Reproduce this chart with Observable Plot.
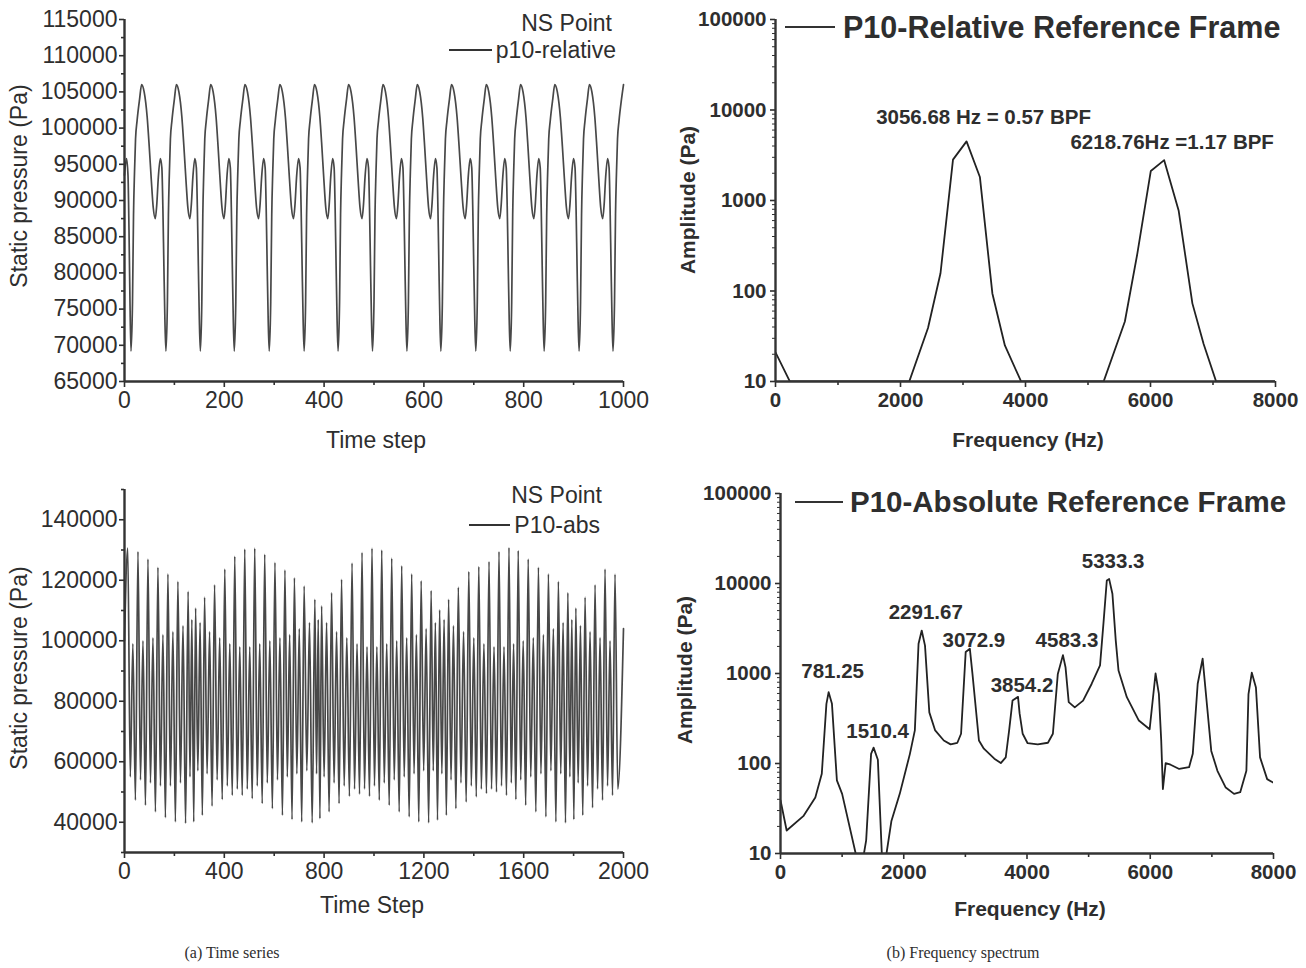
<!DOCTYPE html>
<html>
<head>
<meta charset="utf-8">
<script src="https://cdn.jsdelivr.net/npm/d3@7"></script>
<script src="https://cdn.jsdelivr.net/npm/@observablehq/plot@0.6"></script>
<style>
  body { margin: 0; background: #fff; width: 1306px; height: 968px; position: relative; overflow: hidden;
         font-family: "Liberation Sans", Arial, sans-serif; }
  .panel { position: absolute; }
  .t { position: absolute; white-space: nowrap; color: #2e2e2e; line-height: 1; }
  .key { position: absolute; height: 0; border-top: 2px solid #333; }
</style>
</head>
<body>
<div id="tl" class="panel" style="left:0px;top:0px"></div>
<div id="bl" class="panel" style="left:0px;top:470px"></div>
<div id="tr" class="panel" style="left:660px;top:0px"></div>
<div id="br" class="panel" style="left:660px;top:470px"></div>
<script>
// ---------- (a) Time series: relative frame, one repeating blade-passage cycle ----------
// shape of one cycle, measured from a pressure minimum (offset in time steps, pressure in Pa)
const relCycleOffset = [0, 3, 5, 7, 9, 12, 17, 21, 26, 32, 36, 40, 44, 48, 51, 54, 58, 61, 63, 65, 67];
const relCycleValue  = [69200, 76000, 88000, 94000, 98500, 101000, 104000, 106000, 105000, 101500, 97500,
                        93000, 89000, 87500, 89500, 93200, 95800, 94500, 89000, 81000, 73500];
// time steps of the deep minima
const relMinStep = [13, 83, 152, 220, 290, 360, 428, 497, 566, 634, 704, 773, 841, 911, 979];
// samples before the first minimum
const relLeadStep  = [0, 4, 7, 9, 11];
const relLeadValue = [93500, 95800, 93500, 86000, 76000];

// ---------- (a) Time series: absolute frame, per-cycle extrema ----------
const absPeakStep = [13, 54, 94, 134, 174, 214, 255, 285, 321, 361, 402, 442, 482, 522, 562, 603, 643, 681,
  720, 763, 790, 830, 870, 912, 952, 992, 1031, 1071, 1111, 1151, 1189, 1229, 1263, 1299, 1338, 1380, 1420,
  1461, 1501, 1541, 1578, 1618, 1659, 1699, 1739, 1777, 1809, 1846, 1886, 1926, 1966];
const absPeak = [130600, 129500, 127000, 124300, 122100, 119600, 116300, 110800, 114400, 118500, 123700,
  127900, 130300, 130600, 128600, 125900, 123400, 120800, 118100, 113700, 111500, 115900, 120300, 125700,
  129200, 130600, 130000, 127300, 124800, 122100, 119800, 116600, 110200, 113700, 117700, 122900, 124500,
  126200, 129500, 130800, 129800, 127000, 124300, 122100, 119600, 115900, 110800, 114400, 118500, 123700, 122000];
const absTroughA = [55000, 54000, 53000, 52000, 52000, 53000, 55000, 57000, 56000, 54000, 52000, 51000,
  51000, 52000, 53000, 54000, 55000, 56000, 57000, 56000, 55000, 53000, 52000, 51000, 51000, 52000, 53000,
  54000, 55000, 56000, 57000, 57000, 56000, 54000, 53000, 52000, 51000, 51000, 52000, 53000, 54000, 55000,
  56000, 57000, 56000, 55000, 53000, 52000, 51000, 52000];
const absSmallPeak = [99000, 100000, 101000, 102000, 103000, 105000, 107000, 106000, 103000, 101000, 99000,
  98000, 98000, 99000, 100000, 101000, 102000, 104000, 106000, 107000, 106000, 103000, 101000, 99000, 98000,
  98000, 99000, 100000, 101000, 102000, 104000, 106000, 107000, 105000, 103000, 101000, 99000, 98000, 98000,
  99000, 100000, 101000, 102000, 104000, 106000, 107000, 105000, 103000, 101000, 100000];
const absTroughB = [47300, 45600, 43400, 41500, 40100, 39600, 40100, 42300, 45300, 47500, 48900, 48900,
  47800, 46200, 44500, 42300, 40900, 40100, 39800, 41200, 43400, 46200, 48600, 49300, 48600, 47300, 45600,
  43400, 41800, 40100, 39800, 40700, 42300, 44500, 46700, 48400, 49500, 50000, 48900, 47500, 45600, 43400,
  41800, 40100, 39800, 40900, 42300, 44800, 47300, 48900];
const absHeadStep = [0], absHeadValue = [100000];
const absTailStep = [1977, 2000], absTailValue = [51000, 104000];

// ---------- (b) Frequency spectra ----------
const relFreq = [0, 230, 2140, 2440, 2640, 2840, 3056.68, 3270, 3470, 3670, 3930, 5250, 5590, 5790, 6005,
  6218.76, 6450, 6670, 6850, 7050, 8000];
const relAmp  = [21, 10, 10, 39, 157, 2830, 4500, 1820, 94, 25, 10, 10, 46, 260, 2120, 2790, 776, 73, 26, 10, 10];
const relNoteFreq = [3056.68, 6218.76];
const relNoteText = ["3056.68 Hz = 0.57 BPF", "6218.76Hz =1.17 BPF"];

const absFreq = [0, 100, 370, 565, 670, 745, 781.25, 835, 915, 1000, 1220, 1300, 1390, 1470, 1510.4, 1580,
  1650, 1710, 1800, 1935, 2100, 2180, 2240, 2291.67, 2345, 2415, 2510, 2650, 2760, 2870, 2930, 3005, 3072.9,
  3115, 3220, 3300, 3470, 3575, 3655, 3710, 3765, 3854.2, 3880, 3930, 4010, 4175, 4340, 4420, 4500, 4583.3,
  4625, 4677, 4775, 4910, 5050, 5185, 5240, 5295, 5333.3, 5386, 5440, 5485, 5620, 5815, 5990, 6086, 6140,
  6178, 6205, 6250, 6330, 6470, 6630, 6690, 6770, 6850, 6920, 6990, 7090, 7225, 7360, 7460, 7560, 7594,
  7648, 7715, 7782, 7897, 8000];
const absAmp = [39, 18, 26, 42, 77, 460, 620, 460, 65, 46, 10, 6, 14, 128, 150, 110,
  8, 9, 23, 46, 128, 233, 2140, 3000, 2040, 370, 233, 180, 163, 170, 214, 1730, 1880,
  990, 180, 146, 113, 101, 117, 233, 500, 550, 360, 214, 168, 163, 170, 214, 990, 1600,
  1175, 480, 420, 500, 770, 1230, 3560, 10800, 11200, 7700, 2330, 1080, 546, 300, 240, 1000, 594,
  180, 52, 101, 97, 87, 91, 128, 770, 1460, 450, 138, 83, 54, 46, 48, 83, 590,
  1020, 700, 117, 67, 61];
const absNoteFreq = [781.25, 1510.4, 2291.67, 3072.9, 3854.2, 4583.3, 5333.3];
const absNoteText = ["781.25", "1510.4", "2291.67", "3072.9", "3854.2", "4583.3", "5333.3"];

// ---------- ticks ----------
const relStepTicks = [0, 200, 400, 600, 800, 1000];
const relStepMinor = [100, 300, 500, 700, 900];
const relPressTicks = [65000, 70000, 75000, 80000, 85000, 90000, 95000, 100000, 105000, 110000, 115000];
const relPressMinor = [67500, 72500, 77500, 82500, 87500, 92500, 97500, 102500, 107500, 112500];
const absStepTicks = [0, 400, 800, 1200, 1600, 2000];
const absStepMinor = [200, 600, 1000, 1400, 1800];
const absPressTicks = [40000, 60000, 80000, 100000, 120000, 140000];
const absPressMinor = [30000, 50000, 70000, 90000, 110000, 130000, 150000];
const freqTicks = [0, 2000, 4000, 6000, 8000];
const freqMinor = [1000, 3000, 5000, 7000];
const ampTicks = [10, 100, 1000, 10000, 100000];
const ampMinor = [20, 30, 40, 50, 60, 70, 80, 90, 200, 300, 400, 500, 600, 700, 800, 900,
  2000, 3000, 4000, 5000, 6000, 7000, 8000, 9000, 20000, 30000, 40000, 50000, 60000, 70000, 80000, 90000];

// ---------- series assembly ----------
const relSeries = relLeadStep.map((t, i) => ({t, p: relLeadValue[i]}));
relMinStep.forEach((m, i) => {
  const span = i < relMinStep.length - 1 ? relMinStep[i + 1] - m : 69;
  relCycleOffset.forEach((o, j) => {
    const t = m + o * span / 69;
    if (t <= 1000) relSeries.push({t, p: relCycleValue[j]});
  });
});
if (relSeries[relSeries.length - 1].t < 1000) relSeries.push({t: 1000, p: 106000});

const absSeries = absHeadStep.map((t, i) => ({t, p: absHeadValue[i]}));
absTroughA.forEach((a, k) => {
  const t0 = absPeakStep[k], span = absPeakStep[k + 1] - t0;
  absSeries.push({t: t0, p: absPeak[k]});
  absSeries.push({t: t0 + 0.25 * span, p: a});
  absSeries.push({t: t0 + 0.5 * span, p: absSmallPeak[k]});
  absSeries.push({t: t0 + 0.75 * span, p: absTroughB[k]});
});
absSeries.push({t: absPeakStep[absPeakStep.length - 1], p: absPeak[absPeak.length - 1]});
absTailStep.forEach((t, i) => absSeries.push({t, p: absTailValue[i]}));

const relSpectrum = relFreq.map((f, i) => ({f, a: relAmp[i]}));
const absSpectrum = absFreq.map((f, i) => ({f, a: absAmp[i]}));
const relNotes = relNoteFreq.map((f, i) => ({f, a: relAmp[relFreq.indexOf(f)], text: relNoteText[i]}));
const absNotes = absNoteFreq.map((f, i) => ({f, a: absAmp[absFreq.indexOf(f)], text: absNoteText[i]}));

// ---------- drawing ----------
const INK = "#2e2e2e", AXIS = "#333";
const plain = d3.format("d");
const blank = () => "";

function timePanel(series, xDomain, yDomain, xt, xm, yt, ym, box) {
  return Plot.plot({
    width: box.w, height: box.h,
    marginLeft: box.l, marginRight: box.r, marginTop: box.t, marginBottom: box.b,
    style: {fontFamily: "'Liberation Sans', Arial, sans-serif", fontSize: "23px", color: INK,
            background: "transparent", overflow: "visible"},
    x: {domain: xDomain},
    y: {domain: yDomain},
    marks: [
      Plot.axisX({ticks: xt, tickFormat: plain, tickSize: 6, tickPadding: 4, label: null, strokeWidth: 1.6}),
      Plot.axisX({ticks: xm, tickFormat: blank, tickSize: 4, label: null, strokeWidth: 1.6}),
      Plot.axisY({ticks: yt, tickFormat: plain, tickSize: 5, tickPadding: 2, label: null, strokeWidth: 1.6}),
      Plot.axisY({ticks: ym, tickFormat: blank, tickSize: 3, label: null, strokeWidth: 1.6}),
      Plot.line(series, {x: "t", y: "p", curve: "monotone-x", stroke: "#484848", strokeWidth: 1.7}),
      Plot.ruleX([xDomain[0]], {stroke: AXIS, strokeWidth: 2.4}),
      Plot.ruleY([yDomain[0]], {stroke: AXIS, strokeWidth: 2.4})
    ]
  });
}

function spectrumPanel(spectrum, notes, noteMarks, box) {
  return Plot.plot({
    width: box.w, height: box.h,
    marginLeft: box.l, marginRight: box.r, marginTop: box.t, marginBottom: box.b,
    style: {fontFamily: "'Liberation Sans', Arial, sans-serif", fontSize: "20.5px", fontWeight: "bold",
            color: INK, background: "transparent", overflow: "visible"},
    x: {domain: [0, 8000]},
    y: {type: "log", domain: [10, 100000]},
    marks: [
      Plot.axisX({ticks: freqTicks, tickFormat: plain, tickSize: 6, tickPadding: 5, label: null, strokeWidth: 1.6}),
      Plot.axisX({ticks: freqMinor, tickFormat: blank, tickSize: 4, label: null, strokeWidth: 1.6}),
      Plot.axisY({ticks: ampTicks, tickFormat: plain, tickSize: 5, tickPadding: 4, label: null, strokeWidth: 1.6}),
      Plot.axisY({ticks: ampMinor, tickFormat: blank, tickSize: 3, label: null, strokeWidth: 1}),
      Plot.line(spectrum, {x: "f", y: "a", stroke: "#222", strokeWidth: 1.8, clip: true}),
      ...noteMarks(notes),
      Plot.ruleX([0], {stroke: AXIS, strokeWidth: 2.4}),
      Plot.ruleY([10], {stroke: AXIS, strokeWidth: 2.4})
    ]
  });
}

document.getElementById("tl").append(timePanel(relSeries, [0, 1000], [65000, 115000],
  relStepTicks, relStepMinor, relPressTicks, relPressMinor, {w: 660, h: 470, l: 124, r: 37, t: 19, b: 89}));
document.getElementById("bl").append(timePanel(absSeries, [0, 2000], [30000, 150000],
  absStepTicks, absStepMinor, absPressTicks, absPressMinor, {w: 660, h: 430, l: 124, r: 37, t: 19, b: 48}));

// note offsets (px) from each labelled peak
const relNoteShift = [[17, -24], [8, -18]];
const absNoteLift = [-21, -16, -18, -8, -11, -15, -18];

document.getElementById("tr").append(spectrumPanel(relSpectrum, relNotes, notes => notes.map((n, i) =>
  Plot.text([n], {x: "f", y: "a", text: "text", dx: relNoteShift[i][0], dy: relNoteShift[i][1],
                  fontSize: 20.5, fontWeight: "bold"})
), {w: 646, h: 470, l: 115, r: 31, t: 19, b: 89}));
document.getElementById("br").append(spectrumPanel(absSpectrum, absNotes, notes => notes.map((n, i) =>
  Plot.text([n], {x: "f", y: "a", text: "text", dx: 4, dy: absNoteLift[i], fontSize: 20.5, fontWeight: "bold"})
), {w: 646, h: 430, l: 120, r: 33, t: 23, b: 47}));

// ---------- titles, legends, captions ----------
function put(txt, x, y, o = {}) {
  const d = document.createElement("div");
  d.className = "t";
  d.textContent = txt;
  d.style.left = x + "px";
  d.style.top = y + "px";
  d.style.fontSize = (o.size || 20) + "px";
  d.style.fontWeight = o.weight || "normal";
  if (o.family) d.style.fontFamily = o.family;
  const ax = o.anchor === "start" ? "0" : o.anchor === "end" ? "-100%" : "-50%";
  d.style.transform = `translate(${ax}, -50%)` + (o.rotate ? ` rotate(${o.rotate}deg)` : "");
  document.body.appendChild(d);
}
function key(x1, x2, y) {
  const d = document.createElement("div");
  d.className = "key";
  d.style.left = x1 + "px";
  d.style.top = (y - 1) + "px";
  d.style.width = (x2 - x1) + "px";
  document.body.appendChild(d);
}

put("Static pressure (Pa)", 19, 186, {size: 23, rotate: -90});
put("Time step", 376, 440, {size: 23});
put("NS Point", 612, 23, {size: 23, anchor: "end"});
key(449, 492, 50);
put("p10-relative", 616, 50, {size: 23, anchor: "end"});

put("Static pressure (Pa)", 19, 668, {size: 23, rotate: -90});
put("Time Step", 372, 905, {size: 23});
put("NS Point", 602, 495, {size: 23, anchor: "end"});
key(469, 510, 525);
put("P10-abs", 600, 525, {size: 23, anchor: "end"});

put("Amplitude (Pa)", 687, 200, {size: 21, weight: "bold", rotate: -90});
put("Frequency (Hz)", 1028, 439, {size: 21, weight: "bold"});
key(785, 835, 27);
put("P10-Relative Reference Frame", 843, 27, {size: 30.5, weight: "bold", anchor: "start"});

put("Amplitude (Pa)", 684, 670, {size: 21, weight: "bold", rotate: -90});
put("Frequency (Hz)", 1030, 908, {size: 21, weight: "bold"});
key(795, 843, 502);
put("P10-Absolute Reference Frame", 850, 502, {size: 29.5, weight: "bold", anchor: "start"});

put("(a)  Time series", 232, 953, {size: 16, family: "'Liberation Serif', 'Times New Roman', serif"});
put("(b)  Frequency spectrum", 963, 953, {size: 16, family: "'Liberation Serif', 'Times New Roman', serif"});
</script>
</body>
</html>
